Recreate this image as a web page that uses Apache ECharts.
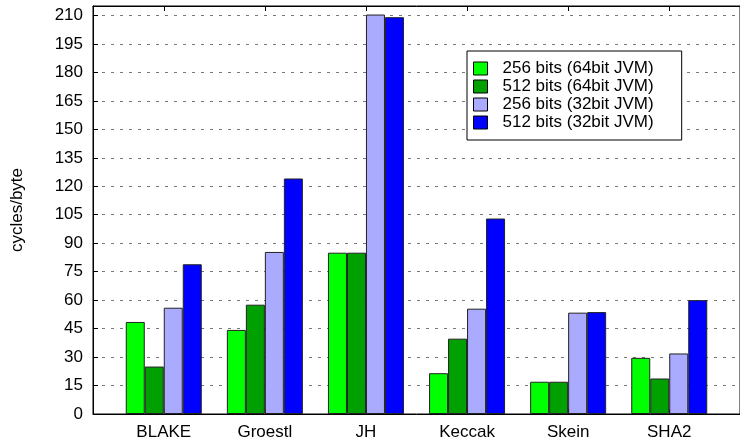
<!DOCTYPE html>
<html>
<head>
<meta charset="utf-8">
<script src="https://cdn.jsdelivr.net/npm/echarts@6/dist/echarts.min.js"></script>
<style>
  html, body { margin: 0; padding: 0; background: #fff; }
  #chart { width: 740px; height: 441px; }
</style>
</head>
<body>
<div id="chart"></div>
<script>
  // hash functions on the x axis
  const categories = ['BLAKE', 'Groestl', 'JH', 'Keccak', 'Skein', 'SHA2'];

  // cycles/byte
  const bits256jvm64 = [48.5, 44.3, 85, 21.5, 17, 29.6];
  const bits512jvm64 = [25, 57.6, 85, 39.7, 17, 18.7];
  const bits256jvm32 = [56, 85.4, 210.5, 55.5, 53.4, 31.9];
  const bits512jvm32 = [78.9, 124.1, 209.1, 103, 53.7, 60];

  const yTicks = [0, 15, 30, 45, 60, 75, 90, 105, 120, 135, 150, 165, 180, 195, 210];
  const positions = categories.map((c, i) => i);

  const font = 'Liberation Sans, Arial, Helvetica, sans-serif';

  const chart = echarts.init(document.getElementById('chart'));

  function bar(name, values, color) {
    return {
      name: name,
      type: 'bar',
      barWidth: 19,
      barGap: '0%',
      data: values.map((v, i) => [positions[i], v]),
      itemStyle: {color: color, borderColor: '#222', borderWidth: 1},
      animation: false
    };
  }

  chart.setOption({
    animation: false,
    grid: {
      left: 93,
      right: -3,
      top: 6,
      bottom: 26,
      show: true,
      borderColor: '#000',
      borderWidth: 1,
      containLabel: false
    },

    legend: {
      orient: 'vertical',
      left: 467,
      top: 51,
      padding: [9, 28, 9, 6],
      itemWidth: 14,
      itemHeight: 13,
      itemGap: 1,
      backgroundColor: '#fff',
      borderColor: '#000',
      borderWidth: 1,
      borderRadius: 0,
      icon: 'rect',
      itemStyle: {borderColor: '#000', borderWidth: 1},
      textStyle: {fontFamily: font, fontSize: 17, lineHeight: 17, color: '#000', padding: [0, 0, 0, 10]}
    },

    xAxis: [{
      type: 'value',
      position: 'bottom',
      min: -0.7,
      max: 5.7,
      splitLine: {show: false},
      axisLine: {show: true, onZero: false, lineStyle: {color: '#000'}},
      axisTick: {show: true, inside: true, length: 5, customValues: positions, lineStyle: {color: '#000'}},
      axisLabel: {
        customValues: positions,
        formatter: v => categories[Math.round(v)],
        fontFamily: font,
        fontSize: 17,
        color: '#000',
        margin: 10
      }
    }, {
      type: 'value',
      position: 'top',
      min: -0.7,
      max: 5.7,
      splitLine: {show: false},
      axisLine: {show: true, onZero: false, lineStyle: {color: '#000'}},
      axisTick: {show: true, inside: true, length: 5, customValues: positions, lineStyle: {color: '#000'}},
      axisLabel: {show: false}
    }],

    yAxis: {
      type: 'value',
      min: 0,
      max: 215,
      interval: 15,
      name: 'cycles/byte',
      nameLocation: 'middle',
      nameGap: 67,
      nameTextStyle: {fontFamily: font, fontSize: 17, color: '#000'},
      axisLine: {show: true, onZero: false, lineStyle: {color: '#000'}},
      axisTick: {show: true, inside: true, length: 5, lineStyle: {color: '#000'}},
      axisLabel: {
        fontFamily: font,
        fontSize: 17,
        color: '#000',
        margin: 10,
        formatter: v => yTicks.indexOf(v) >= 0 ? String(v) : ''
      },
      splitLine: {show: true, lineStyle: {color: '#777', type: [3, 6], width: 1}}
    },

    series: [
      bar('256 bits (64bit JVM)', bits256jvm64, '#00ff00'),
      bar('512 bits (64bit JVM)', bits512jvm64, '#00a000'),
      bar('256 bits (32bit JVM)', bits256jvm32, '#aaaaff'),
      bar('512 bits (32bit JVM)', bits512jvm32, '#0000ff')
    ]
  });
</script>
</body>
</html>
